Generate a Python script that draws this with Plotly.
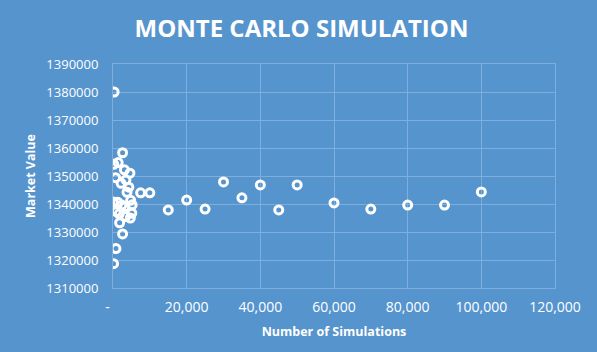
import plotly.graph_objects as go

# Number of simulations (x) and resulting market value (y)
sims = [300, 2600, 200, 1400, 700, 3100, 4600, 3500, 2200, 4300, 3800, 7500, 10000,
        100, 1300, 4800, 5200, 3200, 2400, 900, 5100, 4700, 1800, 2600, 800, 150,
        1700, 3400,
        15000, 20000, 25000, 30000, 35000, 40000, 45000, 50000, 60000, 70000,
        80000, 90000, 100000]
values = [1380000, 1358300, 1354200, 1354800, 1349400, 1352200, 1351000, 1348600,
          1347400, 1346000, 1344200, 1344000, 1344000,
          1340700, 1340600, 1341300, 1339700, 1339000, 1339600, 1337300, 1336700,
          1335000, 1333300, 1329300, 1324100, 1318700,
          1336500, 1335500,
          1337900, 1341400, 1338200, 1347900, 1342200, 1346800, 1337900, 1346800,
          1340400, 1338200, 1339600, 1339600, 1344300]

x_ticks = [0, 20000, 40000, 60000, 80000, 100000, 120000]
x_labels = ["-\u00a0\u00a0\u00a0", "20,000", "40,000", "60,000", "80,000", "100,000", "120,000"]
y_ticks = list(range(1310000, 1390001, 10000))
y_labels = [str(v) for v in y_ticks]

BG = "#5694CE"
GRID = "#7DAEDD"
FONT = "Open Sans"

fig = go.Figure(go.Scatter(
    x=sims, y=values, mode="markers",
    marker=dict(symbol="circle-open", size=8, color="white", line=dict(width=3, color="white")),
    hoverinfo="x+y",
))

fig.update_layout(
    width=597, height=352,
    paper_bgcolor=BG, plot_bgcolor=BG,
    margin=dict(l=113, r=42, t=64, b=64),
    showlegend=False,
    title=dict(text="<b>MONTE CARLO SIMULATION</b>", x=0.505, xanchor="center",
               y=0.918, yanchor="middle",
               font=dict(family=FONT, size=24, color="white")),
    font=dict(family=FONT, color="white"),
    xaxis=dict(range=[0, 120000], tickvals=x_ticks, ticktext=x_labels,
               showgrid=True, gridcolor=GRID, gridwidth=1, zeroline=False,
               showline=True, linecolor=GRID, mirror=True, ticks="",
               ticklabelstandoff=6,
               tickfont=dict(family=FONT, size=14, color="white"),
               title=dict(text="<b>Number of Simulations</b>", standoff=12,
                          font=dict(family=FONT, size=12.5, color="white"))),
    yaxis=dict(range=[1310000, 1390000], tickvals=y_ticks, ticktext=y_labels,
               showgrid=True, gridcolor=GRID, gridwidth=1, zeroline=False,
               showline=True, linecolor=GRID, mirror=True, ticks="",
               ticklabelstandoff=11,
               tickfont=dict(family=FONT, size=13, color="white"),
               title=dict(text="<b>Market Value</b>", standoff=7,
                          font=dict(family=FONT, size=12.5, color="white"))),
)

fig.write_html("out.html")
